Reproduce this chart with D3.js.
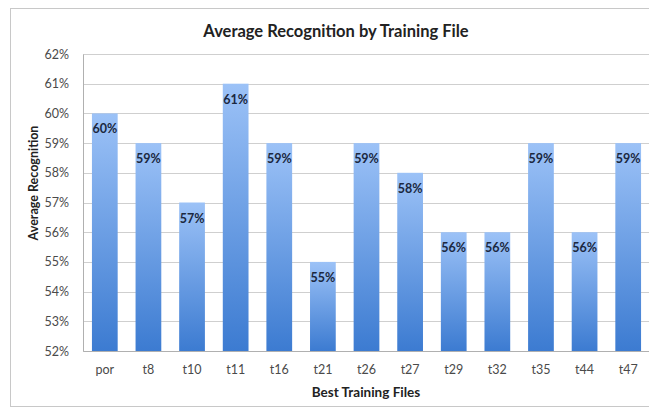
<!DOCTYPE html>
<html><head><meta charset="utf-8">
<script src="https://cdn.jsdelivr.net/npm/d3@7"></script>
<style>body{margin:0;background:#fff}svg{display:block}text{font-family:Lato,"Open Sans",sans-serif}</style>
</head><body><svg id="c" width="649" height="408"></svg>
<script>
const categories = ["por","t8","t10","t11","t16","t21","t26","t27","t29","t32","t35","t44","t47"];
const values = [60,59,57,61,59,55,59,58,56,56,59,56,59];
const yTicks = [52,53,54,55,56,57,58,59,60,61,62];
const title = "Average Recognition by Training File";
const xTitle = "Best Training Files";
const yTitle = "Average Recognition";

const svg = d3.select("#c");
const m = {l:83, r:650, t:54, b:351};
const x = d3.scaleBand().domain(categories).range([m.l, m.r]).paddingInner(0.41).paddingOuter(0.205);
const y = d3.scaleLinear().domain([52,62]).range([m.b, m.t]);

const defs = svg.append("defs");
const g = defs.append("linearGradient").attr("id","bg").attr("x1",0).attr("y1",0).attr("x2",0).attr("y2",1);
g.append("stop").attr("offset","0%").attr("stop-color","#9cc2f7");
g.append("stop").attr("offset","100%").attr("stop-color","#3c7bd1");

svg.append("rect").attr("x",10.5).attr("y",8.5).attr("width",660).attr("height",398).attr("fill","#fff").attr("stroke","#c8c8c8");

svg.append("g").selectAll("line").data(yTicks).join("line")
  .attr("x1",m.l).attr("x2",m.r).attr("y1",d=>Math.round(y(d))+0.5).attr("y2",d=>Math.round(y(d))+0.5)
  .attr("stroke","#cfcfcf").attr("stroke-width",1);

const yAxis = svg.append("g").attr("transform",`translate(${m.l},0)`)
  .call(d3.axisLeft(y).tickValues(yTicks).tickFormat(d=>d+"%").tickSize(0).tickPadding(14));
yAxis.select(".domain").attr("stroke","#b0b0b0");
yAxis.selectAll("text").attr("font-size",12.5).attr("fill","#4a4a4a").attr("font-family","Lato,sans-serif");

const xAxis = svg.append("g").attr("transform",`translate(0,${m.b})`)
  .call(d3.axisBottom(x).tickSize(0).tickPadding(14));
xAxis.select(".domain").attr("stroke","#b0b0b0");
xAxis.selectAll("text").attr("font-size",12.5).attr("fill","#4a4a4a").attr("font-family","Lato,sans-serif");

svg.append("g").selectAll("rect").data(values).join("rect")
  .attr("x",(d,i)=>x(categories[i])).attr("width",x.bandwidth())
  .attr("y",d=>y(d)).attr("height",d=>y(52)-y(d)).attr("fill","url(#bg)");

svg.append("g").selectAll("text").data(values).join("text")
  .attr("x",(d,i)=>x(categories[i])+x.bandwidth()/2).attr("y",d=>y(d)+20)
  .attr("text-anchor","middle").attr("font-size",12.5).attr("font-weight","bold").attr("fill","#1b2840")
  .text(d=>d+"%");

svg.append("text").attr("x",336).attr("y",37).attr("text-anchor","middle")
  .attr("font-size",16.5).attr("font-weight","bold").attr("fill","#222").text(title);
svg.append("text").attr("x",366).attr("y",397).attr("text-anchor","middle")
  .attr("font-size",13.5).attr("font-weight","bold").attr("fill","#222").text(xTitle);
svg.append("text").attr("transform","translate(38,183) rotate(-90)").attr("text-anchor","middle")
  .attr("font-size",12.5).attr("font-weight","bold").attr("fill","#222").text(yTitle);
</script></body></html>
